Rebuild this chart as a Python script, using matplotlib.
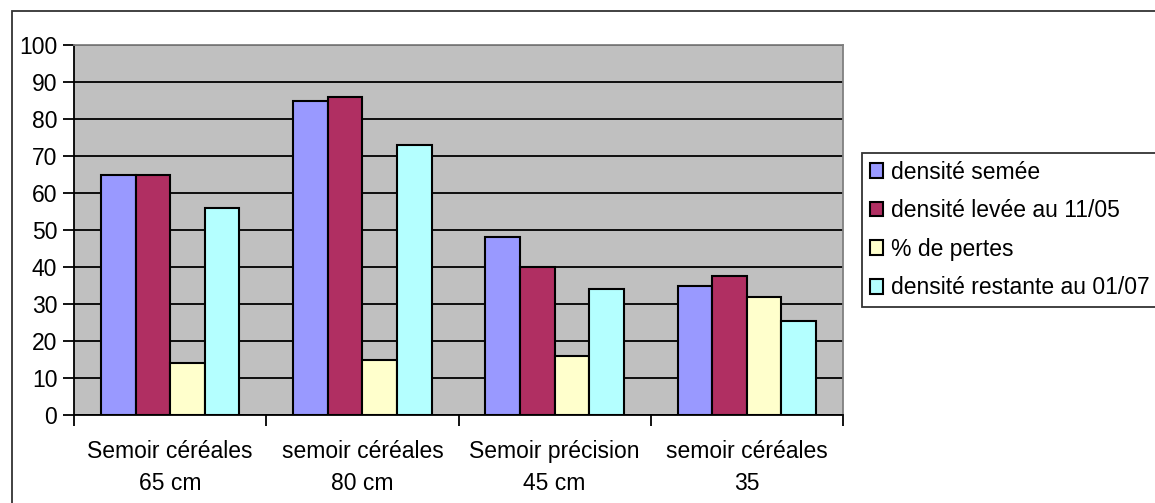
import matplotlib
matplotlib.use("Agg")
import matplotlib.pyplot as plt
import numpy as np
from matplotlib.patches import Rectangle

categories = ["Semoir céréales\n65 cm", "semoir céréales\n80 cm", "Semoir précision\n45 cm", "semoir céréales\n35"]
series_names = ["densité semée", "densité levée au 11/05", "% de pertes", "densité restante au 01/07"]
densite_semee = [65, 85, 48, 35]
densite_levee = [65, 86, 40, 37.5]
pertes = [14, 15, 16, 32]
densite_restante = [56, 73, 34, 25.5]
colors = ["#9999FF", "#B02F62", "#FFFFCC", "#B4FFFF"]
yticks = list(range(0, 101, 10))

plt.rcParams['font.family'] = ['Liberation Sans', 'DejaVu Sans']
FS = 16.5

fig = plt.figure(figsize=(11.55, 5.03), dpi=100)
fig.patch.set_facecolor("white")
ax = fig.add_axes([74/1155, 1-415/503, (843-74)/1155, (415-45)/503])
ax.set_facecolor("#C0C0C0")

data = [densite_semee, densite_levee, pertes, densite_restante]
x = np.arange(len(categories))
w = 0.18
for i, (vals, name, c) in enumerate(zip(data, series_names, colors)):
    ax.bar(x + (i - 1.5) * w, vals, w, color=c, edgecolor="black", linewidth=1.5,
           label=name, zorder=3)

ax.set_xlim(-0.5, len(categories) - 0.5)
ax.set_ylim(0, 100)
ax.set_yticks(yticks)
ax.yaxis.grid(True, color="black", linewidth=1.3, zorder=1)
ax.set_axisbelow(True)
ax.tick_params(axis="y", length=8, width=1.3, labelsize=FS, pad=4, direction="out")
ax.set_xticks(np.arange(-0.5, len(categories), 1.0))
ax.set_xticklabels([])
ax.set_xticks(x, minor=True)
ax.set_xticklabels(categories, minor=True, fontsize=FS, linespacing=1.5)
ax.tick_params(axis="x", which="major", length=8, width=1.3, direction="out")
ax.tick_params(axis="x", which="minor", length=0, pad=18)

for s in ["top", "right"]:
    ax.spines[s].set_color("#808080")
    ax.spines[s].set_linewidth(1.3)
for s in ["left", "bottom"]:
    ax.spines[s].set_color("black")
    ax.spines[s].set_linewidth(1.3)

leg = fig.legend(loc="upper left", bbox_to_anchor=(862/1155, 1-153/503), fontsize=FS,
                 frameon=True, fancybox=False, edgecolor="black", handlelength=0.6,
                 handleheight=0.6, handletextpad=0.35, labelspacing=0.68,
                 borderpad=0.33, borderaxespad=0)
leg.get_frame().set_linewidth(1.3)

# outer chart frame
fig.add_artist(Rectangle((12/1155, -0.1), 1.2, 1 - 11/503 + 0.1, transform=fig.transFigure,
                         fill=False, edgecolor="#333333", linewidth=1.3))

fig.savefig("out.png", dpi=100)
